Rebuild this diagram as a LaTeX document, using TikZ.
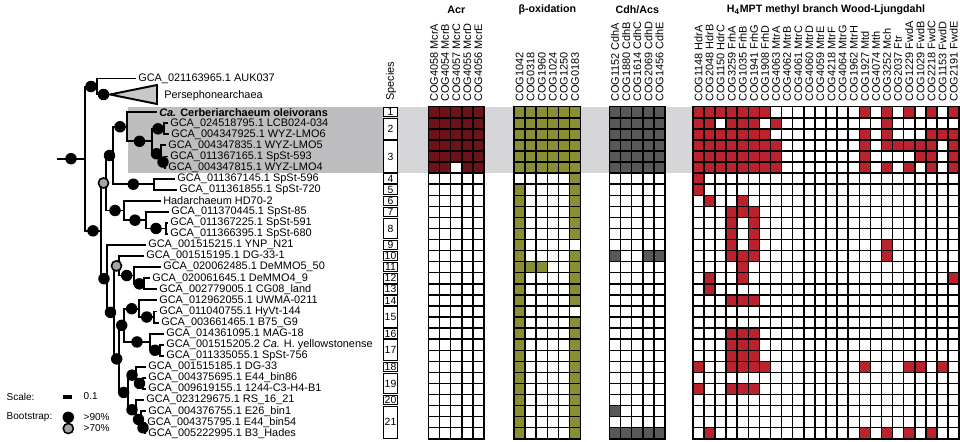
\documentclass[tikz,border=0pt]{standalone}
\usepackage{fontspec}
\setmainfont{Liberation Sans}
\usepackage{tikz}

\definecolor{acrred}{RGB}{108,18,24}
\definecolor{betaolive}{RGB}{138,142,50}
\definecolor{cdhgray}{RGB}{88,88,90}
\definecolor{hmptred}{RGB}{186,34,46}
\definecolor{bandlight}{RGB}{214,214,216}
\definecolor{banddark}{RGB}{190,190,192}
\definecolor{bootgray}{RGB}{165,165,165}
\definecolor{cladegray}{RGB}{200,200,200}

\begin{document}
\begin{tikzpicture}[x=0.75pt,y=-0.75pt,font=\fontsize{8.2}{9}\selectfont]
% Define styles
\tikzstyle{treeline} = [line width=1.45pt, black]
\tikzstyle{leaf} = [anchor=west, inner xsep=1.5pt, inner ysep=0pt]
\tikzstyle{bsdot} = [circle, fill=black, inner sep=0pt, minimum size=8.6pt]
\tikzstyle{bsring} = [circle, fill=bootgray, draw=black, line width=1.2pt, inner sep=0pt, minimum size=7.6pt]
\tikzstyle{collab} = [anchor=west, rotate=90, inner sep=0pt]
\tikzstyle{grouptitle} = [font=\fontsize{8}{9}\selectfont\bfseries]
\tikzstyle{spbox} = [draw=black, line width=0.75pt, fill=white, inner sep=0pt, minimum width=9.9pt, font=\fontsize{7.8}{8}\selectfont]
\tikzstyle{gridln} = [line width=1.1pt, black, line cap=rect]
\tikzstyle{legtext} = [anchor=west, font=\fontsize{7.5}{9}\selectfont]

\useasboundingbox (0,0) rectangle (960,442);

% Highlight band
\fill[bandlight] (128,106.7) rectangle (692.8,173.1);
\fill[banddark] (128,106.7) rectangle (383,173.1);

% Leaves
\node[leaf] (auk) at (136,78.5) {GCA\_021163965.1 AUK037};
\coordinate (perA) at (110,94.5);
\coordinate (perB) at (157,85);
\coordinate (perC) at (157,104);
\node[leaf] (perlab) at (162,95.5) {Persephonearchaea};
\node[leaf,font=\fontsize{8.2}{9}\selectfont\bfseries] (cerb) at (157,112.24) {\textit{Ca.} Cerberiarchaeum oleivorans};
\node[leaf] (lcb) at (168,123.31) {GCA\_024518795.1 LCB024-034};
\node[leaf] (lmo6) at (169,134.38) {GCA\_004347925.1 WYZ-LMO6};
\node[leaf] (lmo5) at (166,145.45) {GCA\_004347835.1 WYZ-LMO5};
\node[leaf] (sp593) at (168,156.52) {GCA\_011367165.1 SpSt-593};
\node[leaf] (lmo4) at (166,167.59) {GCA\_004347815.1 WYZ-LMO4};
\node[leaf] (sp596) at (175,178.66) {GCA\_011367145.1 SpSt-596};
\node[leaf] (sp720) at (177,189.73) {GCA\_011361855.1 SpSt-720};
\node[leaf] (hd702) at (161,200.80) {Hadarchaeum HD70-2};
\node[leaf] (sp85) at (169,211.87) {GCA\_011370445.1 SpSt-85};
\node[leaf] (sp591) at (168,222.94) {GCA\_011367225.1 SpSt-591};
\node[leaf] (sp680) at (168,234.01) {GCA\_011366395.1 SpSt-680};
\node[leaf] (ynp) at (146,245.08) {GCA\_001515215.1 YNP\_N21};
\node[leaf] (dg331) at (144,256.15) {GCA\_001515195.1 DG-33-1};
\node[leaf] (demmo5) at (161,267.22) {GCA\_020062485.1 DeMMO5\_50};
\node[leaf] (demmo4) at (150,278.29) {GCA\_020061645.1 DeMMO4\_9};
\node[leaf] (cg08) at (157,289.36) {GCA\_002779005.1 CG08\_land};
\node[leaf] (uwma) at (157,300.43) {GCA\_012962055.1 UWMA-0211};
\node[leaf] (hyvt) at (157,311.50) {GCA\_011040755.1 HyVt-144};
\node[leaf] (b75) at (159,322.57) {GCA\_003661465.1 B75\_G9};
\node[leaf] (mag18) at (164,333.64) {GCA\_014361095.1 MAG-18};
\node[leaf] (hyell) at (164,344.71) {GCA\_001515205.2 \textit{Ca.} H. yellowstonense};
\node[leaf] (sp756) at (164,355.78) {GCA\_011335055.1 SpSt-756};
\node[leaf] (dg33) at (146,366.85) {GCA\_001515185.1 DG-33};
\node[leaf] (e44b86) at (146,377.92) {GCA\_004375695.1 E44\_bin86};
\node[leaf] (c3h4) at (146,388.99) {GCA\_009619155.1 1244-C3-H4-B1};
\node[leaf] (rs16) at (144,400.06) {GCA\_023129675.1 RS\_16\_21};
\node[leaf] (e26) at (146,411.13) {GCA\_004376755.1 E26\_bin1};
\node[leaf] (e44b54) at (145,422.20) {GCA\_004375795.1 E44\_bin54};
\node[leaf] (b3) at (146,433.27) {GCA\_005222995.1 B3\_Hades};

% Internal nodes
\coordinate (root0) at (57,158.7);
\coordinate (R) at (85,158.7);
\coordinate (O) at (97,86.5);
\coordinate (I) at (101,230.85);
\coordinate (G) at (106,182.98);
\coordinate (U) at (113,155.48);
\coordinate (C) at (127,126.77);
\coordinate (C2) at (152,141.3);
\coordinate (C3) at (164,128.85);
\coordinate (C4) at (161,153.75);
\coordinate (C5) at (165,162.06);
\coordinate (S) at (153.6,184.2);
\coordinate (Hd) at (124,210.48);
\coordinate (Hd2) at (146,220.17);
\coordinate (Hd3) at (166,228.48);
\coordinate (L) at (107,278.72);
\coordinate (L2) at (114,312.37);
\coordinate (GG) at (119,265.84);
\coordinate (D1) at (134.4,275.52);
\coordinate (D2) at (144.2,283.83);
\coordinate (L3) at (119.4,358.9);
\coordinate (E) at (124,325.34);
\coordinate (E1) at (139.4,308.73);
\coordinate (E1b) at (154,317.04);
\coordinate (E2) at (150,341.94);
\coordinate (E2b) at (160,350.25);
\coordinate (F) at (128,392.45);
\coordinate (F1) at (136,375.15);
\coordinate (F1b) at (143,383.46);
\coordinate (F2) at (136,409.75);
\coordinate (F2b) at (141,419.43);
\coordinate (F2c) at (145,427.74);

% Draw branches
\draw[treeline] (root0) -- node[bsdot]{} (R);
\draw[treeline] (R) |- node[pos=.75,bsdot]{} (O);
\draw[treeline] (R) |- node[pos=.75,bsdot]{} (I);
\draw[treeline] (O) |- (auk.west);
\draw[treeline] (O) |- node[pos=.75,bsdot]{} (perA);
\draw[treeline,fill=cladegray] (perA) -- (perB) -- (perC) -- cycle;
\draw[treeline] (G) |- node[pos=.75,bsdot]{} (U);
\draw[treeline] (G) |- node[pos=.75,bsdot]{} (Hd);
\draw[treeline] (I) |- node[pos=.75,bsring]{} (G);
\draw[treeline] (I) |- node[pos=.75,bsdot]{} (L);
\draw[treeline] (U) |- node[pos=.75,bsdot]{} (C);
\draw[treeline] (U) |- node[pos=.75,bsdot]{} (S);
\draw[treeline] (C) |- (cerb.west);
\draw[treeline] (C) |- node[pos=.75,bsdot]{} (C2);
\draw[treeline] (C2) |- node[pos=.75,bsdot]{} (C3);
\draw[treeline] (C2) |- node[pos=.75,bsdot]{} (C4);
\draw[treeline] (C3) |- (lcb.west);
\draw[treeline] (C3) |- (lmo6.west);
\draw[treeline] (C4) |- (lmo5.west);
\draw[treeline] (C4) |- node[pos=.75,bsdot]{} (C5);
\draw[treeline] (C5) |- (sp593.west);
\draw[treeline] (C5) |- (lmo4.west);
\draw[treeline] (S) |- (sp596.west);
\draw[treeline] (S) |- (sp720.west);
\draw[treeline] (Hd) |- (hd702.west);
\draw[treeline] (Hd) |- node[pos=.75,bsdot]{} (Hd2);
\draw[treeline] (Hd2) |- (sp85.west);
\draw[treeline] (Hd2) |- node[pos=.75,bsdot]{} (Hd3);
\draw[treeline] (Hd3) |- (sp591.west);
\draw[treeline] (Hd3) |- (sp680.west);
\draw[treeline] (L) |- (ynp.west);
\draw[treeline] (L) |- node[pos=.75,bsdot]{} (L2);
\draw[treeline] (GG) |- (dg331.west);
\draw[treeline] (GG) |- node[pos=.75,bsdot]{} (D1);
\draw[treeline] (L2) |- node[pos=.75,bsring]{} (GG);
\draw[treeline] (L2) |- node[pos=.75,bsdot]{} (L3);
\draw[treeline] (D1) |- (demmo5.west);
\draw[treeline] (D1) |- node[pos=.75,bsdot]{} (D2);
\draw[treeline] (D2) |- (demmo4.west);
\draw[treeline] (D2) |- (cg08.west);
\draw[treeline] (L3) |- node[pos=.75,bsdot]{} (E);
\draw[treeline] (L3) |- node[pos=.75,bsdot]{} (F);
\draw[treeline] (E) |- node[pos=.75,bsdot]{} (E1);
\draw[treeline] (E) |- node[pos=.75,bsdot]{} (E2);
\draw[treeline] (E1) |- (uwma.west);
\draw[treeline] (E1) |- node[pos=.75,bsdot]{} (E1b);
\draw[treeline] (E1b) |- (hyvt.west);
\draw[treeline] (E1b) |- (b75.west);
\draw[treeline] (E2) |- (mag18.west);
\draw[treeline] (E2) |- node[pos=.75,bsdot]{} (E2b);
\draw[treeline] (E2b) |- (hyell.west);
\draw[treeline] (E2b) |- (sp756.west);
\draw[treeline] (F) |- node[pos=.75,bsdot]{} (F1);
\draw[treeline] (F) |- node[pos=.75,bsdot]{} (F2);
\draw[treeline] (F1) |- (dg33.west);
\draw[treeline] (F1) |- node[pos=.75,bsdot]{} (F1b);
\draw[treeline] (F1b) |- (e44b86.west);
\draw[treeline] (F1b) |- (c3h4.west);
\draw[treeline] (F2) |- (rs16.west);
\draw[treeline] (F2) |- node[pos=.75,bsdot]{} (F2b);
\draw[treeline] (F2b) |- (e26.west);
\draw[treeline] (F2b) |- node[pos=.75,bsdot]{} (F2c);
\draw[treeline] (F2c) |- (e44b54.west);
\draw[treeline] (F2c) |- (b3.west);

% Legend
\node[legtext] (scalelab) at (2,396.5) {Scale:};
\coordinate (bar0) at (63,396.5);
\coordinate (bar1) at (72,396.5);
\draw[line width=3pt] (bar0) -- (bar1);
\node[legtext] (scaleval) at (79,396.5) {0.1};
\node[legtext] (bootlab) at (2,417.3) {Bootstrap:};
\node[bsdot] (keystrong) at (68.3,417.3) {};
\node[legtext] (keystronglab) at (79,417.3) {>90\%};
\node[bsring] (keyweak) at (68.3,428.5) {};
\node[legtext] (keyweaklab) at (79,428.5) {>70\%};

% Species column
\node[collab] (spectitle) at (391,101) {Species};
\foreach \k/\first/\cnt in {1/1/1, 2/2/2, 3/4/3, 4/7/1, 5/8/1, 6/9/1, 7/10/1, 8/11/2, 9/13/1, 10/14/1, 11/15/1, 12/16/1, 13/17/1, 14/18/1, 15/19/2, 16/21/1, 17/22/2, 18/24/1, 19/25/2, 20/27/1, 21/28/3}{
  \pgfmathsetmacro{\cy}{106.7+(\first-1+\cnt/2)*11.07}
  \pgfmathsetmacro{\hh}{(\cnt*11.07-1.6)*0.75}
  \node[spbox, minimum height=\hh pt] (sp\k) at (390.5,\cy) {\k};
}

% Group titles
\node[grouptitle] (acrtitle) at (456.3,10) {Acr};
\node[grouptitle] (betatitle) at (547.3,10) {β-oxidation};
\node[grouptitle] (cdhtitle) at (637.3,10) {Cdh/Acs};
\node[grouptitle] (hmpttitle) at (826,10) {H\textsubscript{4}MPT methyl branch Wood-Ljungdahl};

% Column labels
\foreach \t [count=\i] in {COG4058 McrA, COG4054 McrB, COG4057 McrC, COG4055 McrD, COG4056 McrE}
  \node[collab] (acrlab\i) at ({428.5+(\i-0.5)*11.1},102) {\t};
\foreach \t [count=\i] in {COG1042, COG0318, COG1960, COG1024, COG1250, COG0183}
  \node[collab] (betalab\i) at ({514+(\i-0.5)*11.1},102) {\t};
\foreach \t [count=\i] in {COG1152 CdhA, COG1880 CdhB, COG1614 CdhC, COG2069 CdhD, COG1456 CdhE}
  \node[collab] (cdhlab\i) at ({609.5+(\i-0.5)*11.1},102) {\t};
\foreach \t [count=\i] in {COG1148 HdrA, COG2048 HdrB, COG1150 HdrC, COG3259 FrhA, COG1035 FrhB, COG1941 FrhG, COG1908 FrhD, COG4063 MtrA, COG4062 MtrB, COG4061 MtrC, COG4060 MtrD, COG4059 MtrE, COG4218 MtrF, COG4064 MtrG, COG1962 MtrH, COG1927 Mtd, COG4074 Mth, COG3252 Mch, COG2037 Ftr, COG1229 FwdA, COG1029 FwdB, COG2218 FwdC, COG1153 FwdD, COG2191 FwdE}
  \node[collab] (hmptlab\i) at ({692.8+(\i-0.5)*11.1},102) {\t};

% Acr cells
\fill[acrred] (428.5,106.7) rectangle ++(55.5,66.42);
\fill[white] ({428.5+2*11.1},{106.7+5*11.07}) rectangle ++(11.1,11.07);

% beta-oxidation cells
\fill[betaolive] (514,106.7) rectangle ++(66.6,66.42);
\foreach \r in {8,...,30}
  \fill[betaolive] (514,{106.7+(\r-1)*11.07}) rectangle ++(11.1,11.07);
\foreach \r in {7,...,12,14,15,...,18,20,21,...,30}
  \fill[betaolive] ({514+5*11.1},{106.7+(\r-1)*11.07}) rectangle ++(11.1,11.07);
\foreach \c in {2,3}
  \fill[betaolive] ({514+(\c-1)*11.1},{106.7+14*11.07}) rectangle ++(11.1,11.07);

% Cdh/Acs cells
\fill[cdhgray] (609.5,106.7) rectangle ++(55.5,66.42);
\foreach \r/\cols in {14/{1,4,5}, 28/{1}, 30/{1,...,5}}
  \foreach \c in \cols
    \fill[cdhgray] ({609.5+(\c-1)*11.1},{106.7+(\r-1)*11.07}) rectangle ++(11.1,11.07);

% H4MPT cells
\foreach \r/\cols in {1/{1,...,7,16,18,...,24}, 2/{1,2,4,5,6,8,18}, 3/{1,...,7,16,18,22,23,24},
    4/{1,...,8,16,18,19,20,21,22,24}, 5/{1,...,8,16,21,22,24}, 6/{1,...,8,16,18,...,22,24},
    7/{1}, 8/{1}, 9/{2,5}, 10/{4,5,6}, 11/{4,6}, 12/{4,6}, 13/{4,6,18}, 14/{4,5,6,18,...,22},
    15/{5}, 16/{2,5,24}, 17/{2}, 18/{4,5,6}, 21/{4,5,6}, 22/{4,5,6}, 23/{4,5,6},
    24/{1,4,5,6,7,16,20,21,23}, 26/{1,4,5,6}, 30/{2,16,18,...,23}}
  \foreach \c in \cols
    \fill[hmptred] ({692.8+(\c-1)*11.1},{106.7+(\r-1)*11.07}) rectangle ++(11.1,11.07);

% Grid lines
\foreach \x/\n in {428.5/5, 514/6, 609.5/5, 692.8/24}{
  \foreach \i in {0,...,\n}
    \draw[gridln] ({\x+\i*11.1},106.7) -- ++(0,332.1);
  \foreach \j in {0,...,30}
    \draw[gridln] (\x,{106.7+\j*11.07}) -- ++({\n*11.1},0);
}

\end{tikzpicture}
\end{document}
